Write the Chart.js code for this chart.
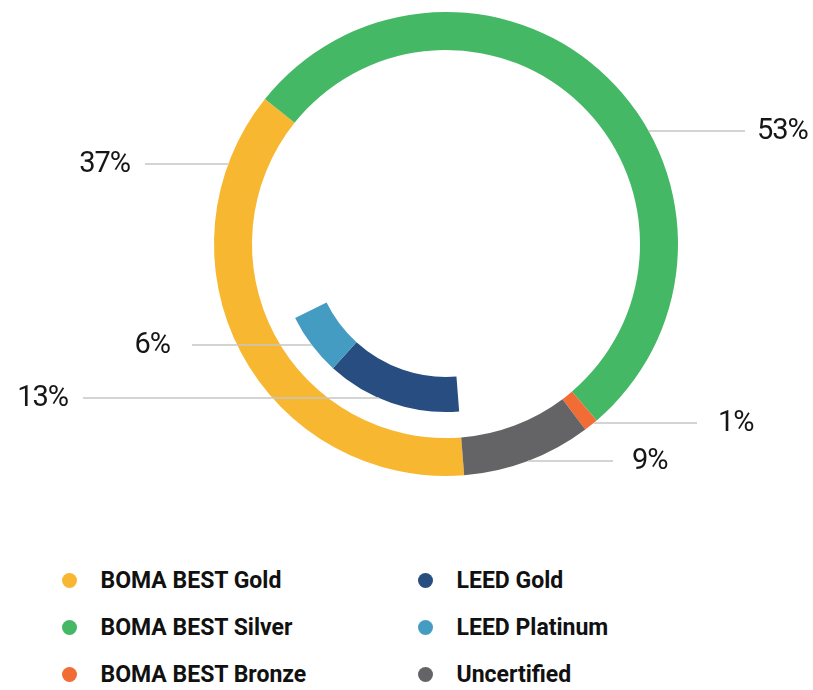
<!DOCTYPE html>
<html>
<head>
<meta charset="utf-8">
<script src="https://cdn.jsdelivr.net/npm/chart.js@4.4.1/dist/chart.umd.min.js"></script>
<style>
  html, body { margin: 0; padding: 0; background: #fff; }
  #wrap { position: relative; width: 813px; height: 690px; overflow: hidden; }
  #chartBox { position: absolute; left: 0; top: 0; width: 813px; height: 500px; }
  #legend {
    position: absolute; left: 62px; top: 557px;
    display: grid; grid-auto-flow: column;
    grid-template-rows: repeat(3, 47px);
    grid-template-columns: 356px 300px;
    font-family: Roboto, "Noto Sans", sans-serif; font-weight: 700; font-size: 23px; color: #111;
  }
  .item { display: flex; align-items: center; white-space: nowrap; }
  .dot { width: 15px; height: 15px; border-radius: 50%; margin-right: 23.5px; flex: none; }
</style>
</head>
<body>
<div id="wrap">
  <div id="chartBox"><canvas id="chart"></canvas></div>
  <div id="legend"></div>
</div>
<script>
// categories (last one is the empty remainder of the inner ring)
const categories = ['BOMA BEST Gold', 'BOMA BEST Silver', 'BOMA BEST Bronze', 'LEED Gold', 'LEED Platinum', 'Uncertified', ''];
const colors = ['#F8B731', '#45B866', '#F26C35', '#284D80', '#449CC2', '#646466', 'rgba(0,0,0,0)'];

// outer ring: BOMA BEST + uncertified (percent)
const bomaValues = [37, 53, 1, 0, 0, 9, 0];
// inner ring: LEED (percent), rest left blank
const leedValues = [0, 0, 0, 13, 6, 0, 81];

// callout placement: ring dataset, y offset from centre, line end and text x offsets from centre
const calloutLayout = [
  { ring: 0, dy: -80,  lineTo: -301, textAt: -316 },
  { ring: 0, dy: -113, lineTo: 299,  textAt: 311 },
  { ring: 0, dy: 179,  lineTo: 251,  textAt: 272 },
  { ring: 2, dy: 154,  lineTo: -363, textAt: -378 },
  { ring: 2, dy: 101,  lineTo: -254, textAt: -276 },
  { ring: 0, dy: 217,  lineTo: 167,  textAt: 186 }
];

// legend (html)
const legendEl = document.getElementById('legend');
categories.slice(0, 6).forEach((name, i) => {
  const item = document.createElement('div');
  item.className = 'item';
  item.innerHTML = '<span class="dot" style="background:' + colors[i] + '"></span><span>' + name + '</span>';
  legendEl.appendChild(item);
});

// percent labels with leader lines
const calloutPlugin = {
  id: 'callouts',
  afterDatasetsDraw(chart) {
    const ctx = chart.ctx;
    const first = chart.getDatasetMeta(0).data[0];
    const cx = first.x, cy = first.y;
    ctx.save();
    calloutLayout.forEach((c, i) => {
      const arc = chart.getDatasetMeta(c.ring).data[i];
      const r = arc.outerRadius;
      const side = Math.sign(c.lineTo);
      const y = cy + c.dy;
      const xStart = cx + side * Math.sqrt(Math.max(r * r - c.dy * c.dy, 0));
      ctx.strokeStyle = '#c6c6c6';
      ctx.lineWidth = 1.5;
      ctx.beginPath();
      ctx.moveTo(xStart, y);
      ctx.lineTo(cx + c.lineTo, y);
      ctx.stroke();

      const value = c.ring === 0 ? bomaValues[i] : leedValues[i];
      ctx.font = '400 29px Roboto, sans-serif';
      ctx.letterSpacing = '-1px';
      ctx.fillStyle = '#161616';
      ctx.textBaseline = 'middle';
      ctx.textAlign = side > 0 ? 'left' : 'right';
      ctx.fillText(value + '%', cx + c.textAt, y + 1);
    });
    ctx.restore();
  }
};

new Chart(document.getElementById('chart'), {
  type: 'doughnut',
  data: {
    labels: categories,
    datasets: [
      { data: bomaValues, backgroundColor: colors, weight: 38 },
      { data: [0, 0, 0, 0, 0, 0, 100], backgroundColor: 'rgba(0,0,0,0)', weight: 26 },
      { data: leedValues, backgroundColor: colors, weight: 35 }
    ]
  },
  options: {
    responsive: true,
    maintainAspectRatio: false,
    animation: false,
    rotation: 175.5,
    cutout: 133,
    borderWidth: 0,
    hoverOffset: 0,
    spacing: 0,
    layout: { padding: { left: 214, right: 135, top: 12, bottom: 24 } },
    plugins: {
      legend: { display: false },
      tooltip: { enabled: false }
    }
  },
  plugins: [calloutPlugin]
});
</script>
</body>
</html>
